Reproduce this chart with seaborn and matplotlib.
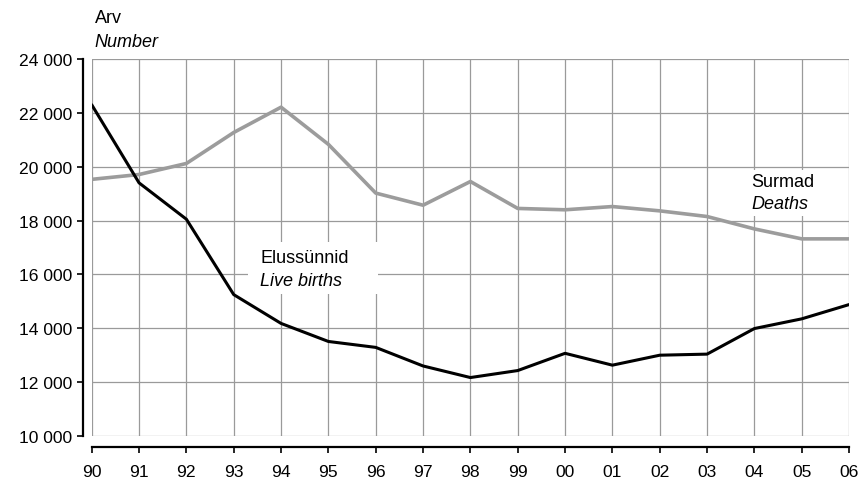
import matplotlib
matplotlib.use("Agg")
import matplotlib.pyplot as plt
from matplotlib.patches import Rectangle
from matplotlib.ticker import FuncFormatter, MultipleLocator
import seaborn as sns
import pandas as pd

# Data
years = list(range(1990, 2007))
year_labels = ["90", "91", "92", "93", "94", "95", "96", "97", "98",
               "99", "00", "01", "02", "03", "04", "05", "06"]
live_births = [22300, 19400, 18050, 15250, 14180, 13510, 13290, 12600, 12170,
               12430, 13070, 12630, 13000, 13040, 13990, 14350, 14880]
deaths = [19530, 19710, 20120, 21270, 22210, 20830, 19020, 18570, 19450,
          18450, 18400, 18520, 18360, 18150, 17690, 17320, 17320]

df = pd.DataFrame({"year": years, "births": live_births, "deaths": deaths})

sns.set_style("ticks")
plt.rcParams["font.family"] = ["Liberation Sans", "DejaVu Sans"]
plt.rcParams["text.color"] = "black"

fig = plt.figure(figsize=(8.62, 4.81), dpi=100)
ax = fig.add_axes([0.1064, 0.0915, 0.8786, 0.7838])

# lines
sns.lineplot(data=df, x="year", y="deaths", ax=ax, color="#9c9c9c",
             linewidth=2.6, zorder=3)
sns.lineplot(data=df, x="year", y="births", ax=ax, color="black",
             linewidth=2.2, zorder=4)

ax.set_xlim(1990, 2006)
ax.set_ylim(10000, 24000)
ax.set_xticks(years)
ax.set_xticklabels(year_labels)
ax.yaxis.set_major_locator(MultipleLocator(2000))
ax.yaxis.set_major_formatter(FuncFormatter(lambda v, p: f"{int(v):,}".replace(",", " ")))
ax.set_xlabel("")
ax.set_ylabel("")

# grid
ax.set_axisbelow(True)
ax.grid(True, color="#9a9a9a", linewidth=0.9)
for gl in ax.get_xgridlines() + ax.get_ygridlines():
    gl.set_clip_on(False)

# spines
for side in ["top", "right"]:
    ax.spines[side].set_visible(False)
ax.spines["left"].set_position(("outward", 6))
ax.spines["bottom"].set_position(("outward", 8))
for side in ["left", "bottom"]:
    ax.spines[side].set_linewidth(1.6)
    ax.spines[side].set_color("black")

ax.tick_params(axis="y", length=4.5, width=1.2, pad=3.5, labelsize=12.6, colors="black")
ax.tick_params(axis="x", length=4, width=1.2, pad=8.5, labelsize=12.6, colors="black")

# white boxes behind the series labels
ax.add_patch(Rectangle((1993.30, 15274), 2.75, 1930, facecolor="white",
                       edgecolor="none", zorder=1.5))
ax.add_patch(Rectangle((2003.66, 18170), 2.32, 1720, facecolor="white",
                       edgecolor="none", zorder=1.5))

ax.text(1993.556, 16462, "Elussünnid", fontsize=13, va="baseline", ha="left", zorder=5)
ax.text(1993.556, 15608, "Live births", fontsize=13, style="italic",
        va="baseline", ha="left", zorder=5)
ax.text(2003.93, 19284, "Surmad", fontsize=13, va="baseline", ha="left", zorder=5)
ax.text(2003.93, 18467, "Deaths", fontsize=13, style="italic",
        va="baseline", ha="left", zorder=5)

# axis title
fig.text(0.110, 0.952, "Arv", fontsize=13, va="baseline", ha="left")
fig.text(0.110, 0.902, "Number", fontsize=13, style="italic", va="baseline", ha="left")

fig.savefig("out.png", dpi=100)
plt.close(fig)
